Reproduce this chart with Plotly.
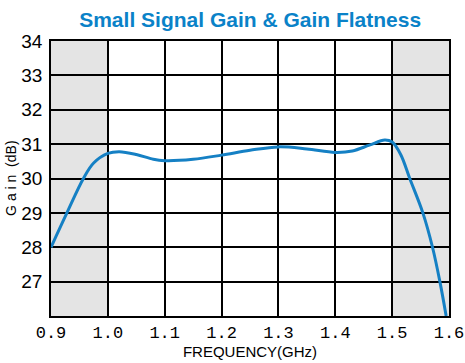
import plotly.graph_objects as go

freq_ghz = [0.900, 0.928, 0.957, 0.975, 1.000, 1.020, 1.050, 1.080, 1.100, 1.150,
            1.200, 1.250, 1.300, 1.350, 1.400, 1.430, 1.460, 1.487, 1.500, 1.515,
            1.531, 1.554, 1.571, 1.584, 1.595]
gain_db = [28.0, 29.0, 30.0, 30.45, 30.73, 30.78, 30.70, 30.56, 30.52, 30.56,
           30.68, 30.82, 30.92, 30.86, 30.76, 30.80, 30.97, 31.12, 31.06, 30.70,
           30.0, 29.0, 28.0, 27.0, 26.0]

x_ticks = [0.9, 1.0, 1.1, 1.2, 1.3, 1.4, 1.5, 1.6]
x_labels = ["0.9", "1.0", "1.1", "1.2", "1.3", "1.4", "1.5", "1.6"]
y_ticks = [27, 28, 29, 30, 31, 32, 33, 34]
y_labels = ["27", "28", "29", "30", "31", "32", "33", "34"]
shaded_bands = [(0.9, 1.0), (1.5, 1.6)]

fig = go.Figure()
fig.add_trace(go.Scatter(x=freq_ghz, y=gain_db, mode="lines",
                         line=dict(color="#1580c4", width=3, shape="spline", smoothing=1.0),
                         showlegend=False, hoverinfo="skip"))

shapes = []
for a, b in shaded_bands:
    shapes.append(dict(type="rect", xref="x", yref="y", x0=a, x1=b, y0=26, y1=34,
                       fillcolor="#e4e4e4", line=dict(width=0), layer="below"))
fig.update_layout(shapes=shapes)

sans = "Liberation Sans, Arial, sans-serif"

fig.update_layout(
    width=465, height=363,
    margin=dict(l=51, r=16, t=41, b=47),
    paper_bgcolor="white", plot_bgcolor="white",
    title=dict(text="<b>Small Signal Gain & Gain Flatness</b>",
               font=dict(family=sans, size=21, color="#0a82c8"),
               x=0.538, xanchor="center", y=0.945, yanchor="middle"),
    xaxis=dict(range=[0.9, 1.6], tickvals=x_ticks, ticktext=x_labels,
               showgrid=True, gridcolor="black", gridwidth=1.5,
               showline=True, linecolor="black", linewidth=1.5, mirror=True,
               ticks="", zeroline=False, automargin=False,
               tickfont=dict(family="Liberation Mono, DejaVu Sans Mono, monospace", size=17, color="black"),
               title=dict(text="FREQUENCY(GHz)", standoff=4,
                          font=dict(family=sans, size=15, color="black"))),
    yaxis=dict(range=[26, 34], tickvals=y_ticks, ticktext=y_labels,
               showgrid=True, gridcolor="black", gridwidth=1.5,
               showline=True, linecolor="black", linewidth=1.5, mirror=True,
               ticks="", zeroline=False, automargin=False, ticklabelstandoff=3,
               tickfont=dict(family=sans, size=19, color="black")),
    annotations=[dict(text="G a i n  (dB)", xref="paper", yref="paper",
                      x=-0.102, y=0.5, xanchor="center", yanchor="middle",
                      textangle=-90, showarrow=False,
                      font=dict(family=sans, size=14, color="black"))],
)

fig.write_html("out.html", config={"displayModeBar": False},
               post_script="document.body.style.margin='0';document.body.style.padding='0';")
